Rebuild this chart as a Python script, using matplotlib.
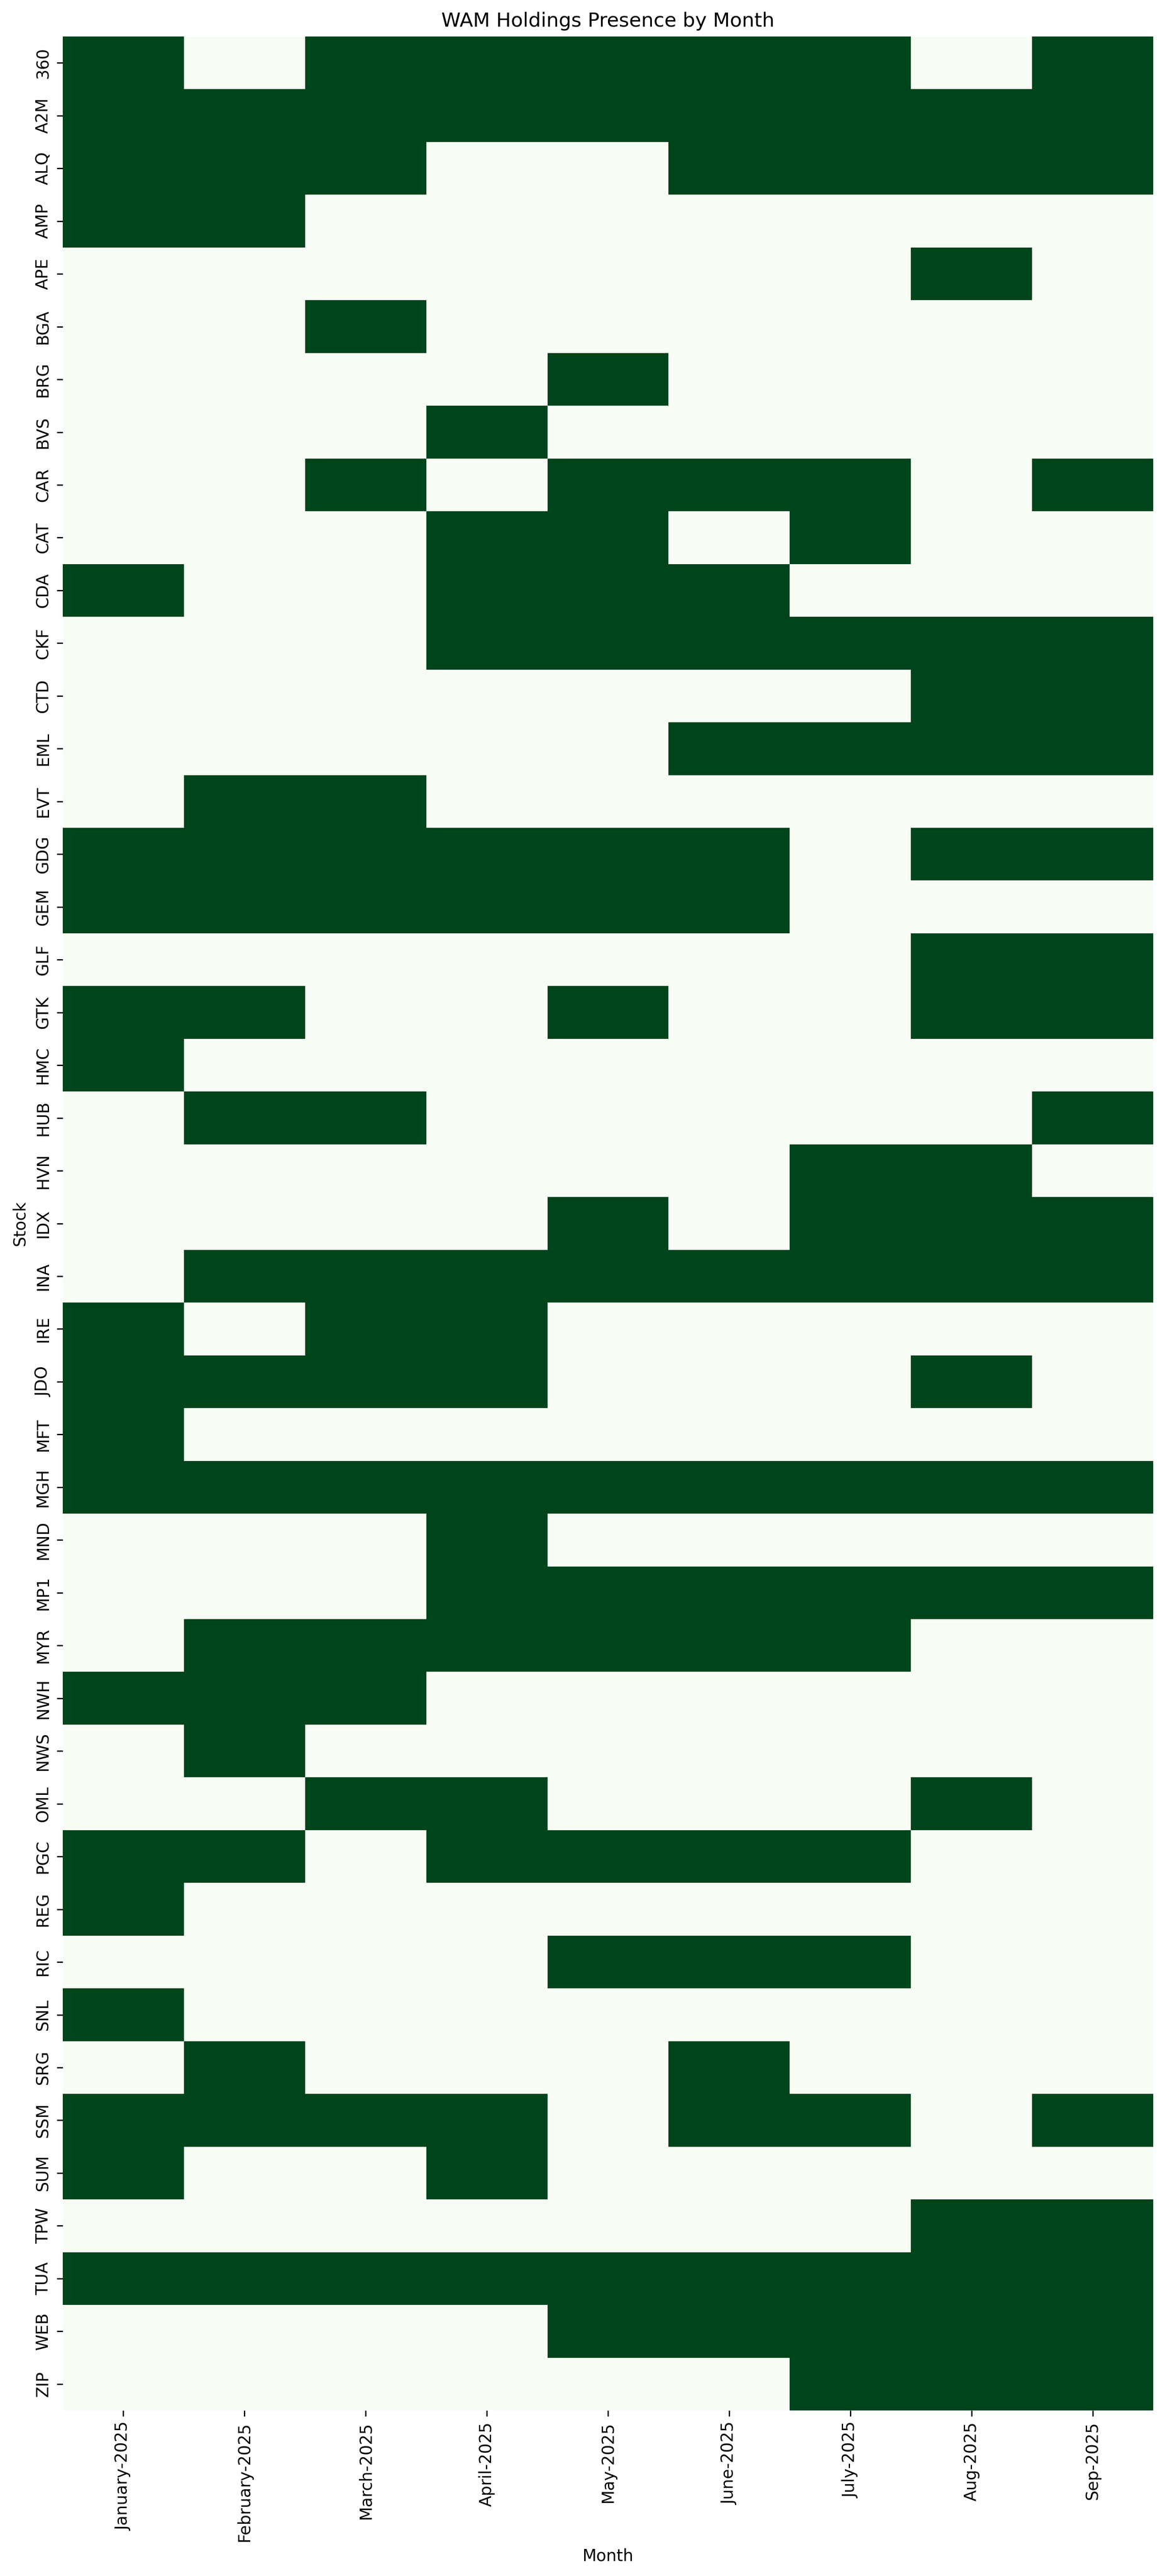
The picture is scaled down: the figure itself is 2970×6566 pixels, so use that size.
import matplotlib
matplotlib.use("Agg")
import matplotlib.pyplot as plt
import seaborn as sns
import pandas as pd
import numpy as np

months = ["January-2025", "February-2025", "March-2025", "April-2025", "May-2025",
          "June-2025", "July-2025", "Aug-2025", "Sep-2025"]

stocks = ["360", "A2M", "ALQ", "AMP", "APE", "BGA", "BRG", "BVS", "CAR", "CAT",
          "CDA", "CKF", "CTD", "EML", "EVT", "GDG", "GEM", "GLF", "GTK", "HMC",
          "HUB", "HVN", "IDX", "INA", "IRE", "JDO", "MFT", "MGH", "MND", "MP1",
          "MYR", "NWH", "NWS", "OML", "PGC", "REG", "RIC", "SNL", "SRG", "SSM",
          "SUM", "TPW", "TUA", "WEB", "ZIP"]

presence = [
    [1, 0, 1, 1, 1, 1, 1, 0, 1],  # 360
    [1, 1, 1, 1, 1, 1, 1, 1, 1],  # A2M
    [1, 1, 1, 0, 0, 1, 1, 1, 1],  # ALQ
    [1, 1, 0, 0, 0, 0, 0, 0, 0],  # AMP
    [0, 0, 0, 0, 0, 0, 0, 1, 0],  # APE
    [0, 0, 1, 0, 0, 0, 0, 0, 0],  # BGA
    [0, 0, 0, 0, 1, 0, 0, 0, 0],  # BRG
    [0, 0, 0, 1, 0, 0, 0, 0, 0],  # BVS
    [0, 0, 1, 0, 1, 1, 1, 0, 1],  # CAR
    [0, 0, 0, 1, 1, 0, 1, 0, 0],  # CAT
    [1, 0, 0, 1, 1, 1, 0, 0, 0],  # CDA
    [0, 0, 0, 1, 1, 1, 1, 1, 1],  # CKF
    [0, 0, 0, 0, 0, 0, 0, 1, 1],  # CTD
    [0, 0, 0, 0, 0, 1, 1, 1, 1],  # EML
    [0, 1, 1, 0, 0, 0, 0, 0, 0],  # EVT
    [1, 1, 1, 1, 1, 1, 0, 1, 1],  # GDG
    [1, 1, 1, 1, 1, 1, 0, 0, 0],  # GEM
    [0, 0, 0, 0, 0, 0, 0, 1, 1],  # GLF
    [1, 1, 0, 0, 1, 0, 0, 1, 1],  # GTK
    [1, 0, 0, 0, 0, 0, 0, 0, 0],  # HMC
    [0, 1, 1, 0, 0, 0, 0, 0, 1],  # HUB
    [0, 0, 0, 0, 0, 0, 1, 1, 0],  # HVN
    [0, 0, 0, 0, 1, 0, 1, 1, 1],  # IDX
    [0, 1, 1, 1, 1, 1, 1, 1, 1],  # INA
    [1, 0, 1, 1, 0, 0, 0, 0, 0],  # IRE
    [1, 1, 1, 1, 0, 0, 0, 1, 0],  # JDO
    [1, 0, 0, 0, 0, 0, 0, 0, 0],  # MFT
    [1, 1, 1, 1, 1, 1, 1, 1, 1],  # MGH
    [0, 0, 0, 1, 0, 0, 0, 0, 0],  # MND
    [0, 0, 0, 1, 1, 1, 1, 1, 1],  # MP1
    [0, 1, 1, 1, 1, 1, 1, 0, 0],  # MYR
    [1, 1, 1, 0, 0, 0, 0, 0, 0],  # NWH
    [0, 1, 0, 0, 0, 0, 0, 0, 0],  # NWS
    [0, 0, 1, 1, 0, 0, 0, 1, 0],  # OML
    [1, 1, 0, 1, 1, 1, 1, 0, 0],  # PGC
    [1, 0, 0, 0, 0, 0, 0, 0, 0],  # REG
    [0, 0, 0, 0, 1, 1, 1, 0, 0],  # RIC
    [1, 0, 0, 0, 0, 0, 0, 0, 0],  # SNL
    [0, 1, 0, 0, 0, 1, 0, 0, 0],  # SRG
    [1, 1, 1, 1, 0, 1, 1, 0, 1],  # SSM
    [1, 0, 0, 1, 0, 0, 0, 0, 0],  # SUM
    [0, 0, 0, 0, 0, 0, 0, 1, 1],  # TPW
    [1, 1, 1, 1, 1, 1, 1, 1, 1],  # TUA
    [0, 0, 0, 0, 1, 1, 1, 1, 1],  # WEB
    [0, 0, 0, 0, 0, 0, 1, 1, 1],  # ZIP
]

df = pd.DataFrame(presence, index=stocks, columns=months)

W, H, DPI = 2970, 6566, 300
fig = plt.figure(figsize=(W / DPI, H / DPI), dpi=DPI)
ax = fig.add_axes([160 / W, 1 - 6144 / H, (2940 - 160) / W, (6144 - 93) / H])

sns.heatmap(df, cmap="Greens", cbar=False, ax=ax)

ax.set_title("WAM Holdings Presence by Month", fontsize=12)
ax.set_xlabel("Month", fontsize=10)
ax.set_ylabel("Stock", fontsize=10)
ax.set_xticklabels(months, rotation=90, fontsize=10)
ax.set_yticklabels(stocks, rotation=90, fontsize=10, va="center")

fig.savefig("out.png", dpi=DPI)
